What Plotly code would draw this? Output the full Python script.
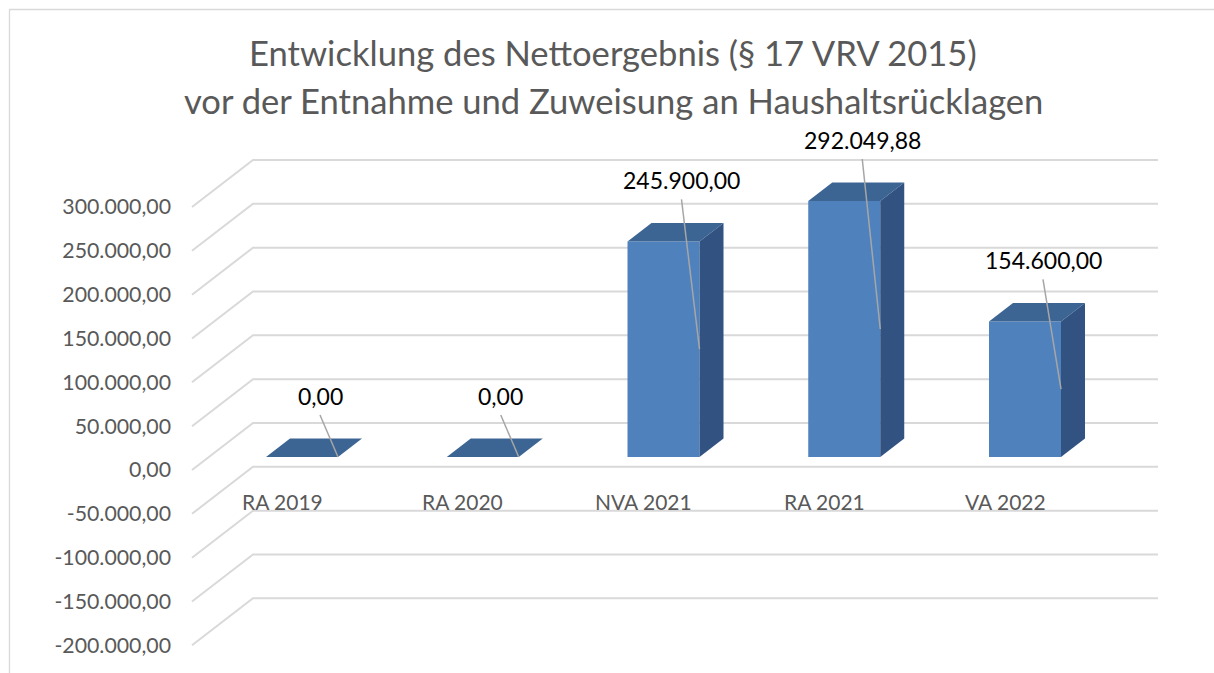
import plotly.graph_objects as go

# ---------------- data ----------------
categories = ["RA 2019", "RA 2020", "NVA 2021", "RA 2021", "VA 2022"]
values = [0.00, 0.00, 245900.00, 292049.88, 154600.00]
tick_values = [-200000, -150000, -100000, -50000, 0, 50000, 100000, 150000, 200000, 250000, 300000]
title_lines = ["Entwicklung des Nettoergebnis (§ 17 VRV 2015)",
               "vor der Entnahme und Zuweisung an Haushaltsrücklagen"]


def de(v):
    s = f"{v:,.2f}"
    return s.replace(",", "X").replace(".", ",").replace("X", ".")


# ---------------- geometry (pixel calibration of the pseudo-3D frame) ----------------
W, H = 1214, 673
PX_X = 180.75            # px per category
X0_PX = 302              # px of first category centre (front face)
PX_V = 263 / 300000      # px per value unit
Y0_FRONT = 470           # px of value 0 on the front (label) plane
Y0_BAR = 457             # px of value 0 on the bar front plane

x_range = [-X0_PX / PX_X, (W - X0_PX) / PX_X]
y_range = [-(H - Y0_FRONT) / PX_V, Y0_FRONT / PX_V]
y2_range = [-(H - Y0_BAR) / PX_V, Y0_BAR / PX_V]

bar_w = 72 / PX_X
ddx = 24 / PX_X
ddy = 18.5 / PX_V
back_off = 47 / PX_V
diag_x0 = (192 - X0_PX) / PX_X
diag_x1 = (253 - X0_PX) / PX_X
grid_x_end = (1158 - X0_PX) / PX_X

FRONT = "#4F81BD"
TOP = "#3C6594"
SIDE = "#325382"
GRID = "#D9D9D9"
TXT = "#595959"
FONT = "Lato"

fig = go.Figure()

# gridlines (front diagonal + back wall)
gx, gy = [], []
for t in tick_values:
    gx += [diag_x0, diag_x1, grid_x_end, None]
    gy += [t, t + back_off, t + back_off, None]
fig.add_trace(go.Scatter(x=gx, y=gy, mode="lines", line=dict(color=GRID, width=2),
                         hoverinfo="skip", showlegend=False))

xs = list(range(len(categories)))

# front faces
fig.add_trace(go.Bar(x=xs, y=values, width=bar_w, yaxis="y2",
                     marker=dict(color=FRONT, line=dict(width=0)),
                     hoverinfo="skip", showlegend=False))

# top & side faces
for i, v in zip(xs, values):
    l, r = i - bar_w / 2, i + bar_w / 2
    fig.add_trace(go.Scatter(x=[l, r, r + ddx, l + ddx, l], y=[v, v, v + ddy, v + ddy, v],
                             mode="lines", fill="toself", fillcolor=TOP,
                             line=dict(width=0, color=TOP), yaxis="y2",
                             hoverinfo="skip", showlegend=False))
    if v > 0:
        fig.add_trace(go.Scatter(x=[r, r + ddx, r + ddx, r, r], y=[0, ddy, v + ddy, v, 0],
                                 mode="lines", fill="toself", fillcolor=SIDE,
                                 line=dict(width=0, color=SIDE), yaxis="y2",
                                 hoverinfo="skip", showlegend=False))

# data labels with leader lines
lab_dx = -18 / PX_X
lab_dy = 61 / PX_V
lead_dy = 42 / PX_V
annotations = []
for i, v in zip(xs, values):
    r = i + bar_w / 2
    fig.add_trace(go.Scatter(x=[r + lab_dx, r], y=[v + lead_dy, v / 2], mode="lines",
                             line=dict(color="#A6A6A6", width=1.5), yaxis="y2",
                             hoverinfo="skip", showlegend=False))
    annotations.append(dict(x=r + lab_dx, y=v + lab_dy, xref="x", yref="y2", text=de(v),
                            showarrow=False, xanchor="center", yanchor="middle",
                            font=dict(family=FONT, size=23, color="#000000")))

# category labels
for i, c in zip(xs, categories):
    annotations.append(dict(x=i - 20 / PX_X, y=(Y0_FRONT - 501) * 1 / PX_V, xref="x", yref="y",
                            text=c, showarrow=False, xanchor="center", yanchor="middle",
                            font=dict(family=FONT, size=21, color=TXT)))

# title
for k, line in enumerate(title_lines):
    annotations.append(dict(x=613 / W, y=1 - (53 + 47 * k) / H, xref="paper", yref="paper",
                            text=line, showarrow=False, xanchor="center", yanchor="middle",
                            font=dict(family=FONT, size=34.6, color=TXT)))

fig.update_layout(
    width=W, height=H, autosize=False,
    margin=dict(l=0, r=0, t=0, b=0),
    paper_bgcolor="white", plot_bgcolor="white",
    showlegend=False,
    xaxis=dict(range=x_range, visible=False, fixedrange=True),
    yaxis=dict(range=y_range, tickvals=tick_values, ticktext=[de(t) for t in tick_values],
               tickfont=dict(family=FONT, size=21.3, color=TXT), showgrid=False, zeroline=False,
               showline=False, ticks="", anchor="free", position=171 / W, fixedrange=True),
    yaxis2=dict(range=y2_range, overlaying="y", visible=False, fixedrange=True),
    annotations=annotations,
    shapes=[dict(type="rect", xref="paper", yref="paper", x0=9.5 / W, x1=1.01, y0=-0.01,
                 y1=1 - 9.5 / H, line=dict(color=GRID, width=1.3), layer="below")],
)

fig.write_html("out.html")
